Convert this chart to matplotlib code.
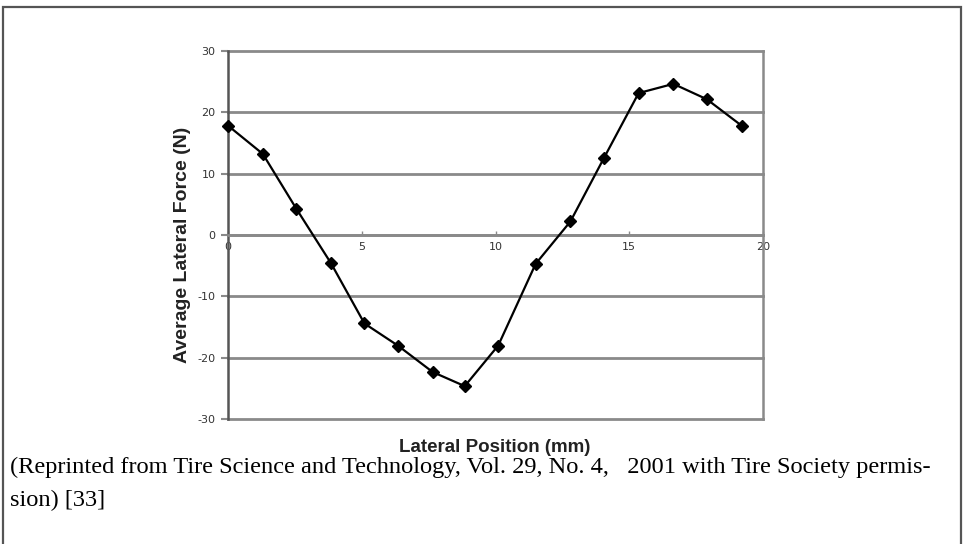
import matplotlib.pyplot as plt
from matplotlib.patches import Rectangle

plt.rcParams['axes.unicode_minus'] = False

# Lateral force sweep across the contact patch
position_mm = [0, 1.3, 2.55, 3.85, 5.1, 6.35, 7.65, 8.85,
               10.1, 11.5, 12.8, 14.05, 15.35, 16.65, 17.9, 19.2]
lateral_force_n = [17.8, 13.2, 4.3, -4.6, -14.4, -18.0, -22.3, -24.6,
                   -18.0, -4.7, 2.2, 12.5, 23.1, 24.6, 22.1, 17.8]

x_ticks = [0, 5, 10, 15, 20]
y_ticks = [-30, -20, -10, 0, 10, 20, 30]

caption_1 = ("(Reprinted from Tire Science and Technology, Vol. 29, No. 4,   "
             "2001 with Tire Society permis-")
caption_2 = "sion) [33]"

fig = plt.figure(figsize=(9.63, 5.44), dpi=100)
ax = fig.add_axes([0.2368, 0.2292, 0.5555, 0.6776])

grid_col = '#8a8a8a'
ax.set_xlim(0, 20)
ax.set_ylim(-30, 30)
ax.set_yticks(y_ticks)
ax.set_xticks(x_ticks)
for y in y_ticks:
    ax.axhline(y, color=grid_col, lw=2.0, zorder=1, clip_on=False)

ax.plot(position_mm, lateral_force_n, color='black', lw=1.6,
        marker='D', markersize=6.5, markerfacecolor='black', zorder=3,
        clip_on=False)

# x axis runs through zero, labels sit just under it
ax.spines['bottom'].set_position(('data', 0))
ax.spines['bottom'].set_color(grid_col)
ax.spines['bottom'].set_linewidth(2.0)
ax.spines['top'].set_visible(False)
ax.spines['left'].set_color('#555555')
ax.spines['left'].set_linewidth(1.8)
ax.spines['right'].set_color(grid_col)
ax.spines['right'].set_linewidth(1.8)

ax.tick_params(axis='x', direction='in', length=3, width=1, color=grid_col,
               labelsize=8, labelcolor='#333333', pad=5)
ax.tick_params(axis='y', direction='out', length=5, width=1.5, color=grid_col,
               labelsize=8, labelcolor='#333333', pad=4)

fig.text(0.189, 1 - 245 / 544, 'Average Lateral Force (N)', rotation=90,
         ha='center', va='center', fontsize=14, fontweight='bold',
         family='Liberation Sans', color='#222222')
fig.text(0.514, 1 - 447 / 544, 'Lateral Position (mm)',
         ha='center', va='center', fontsize=13.5, fontweight='bold',
         family='Liberation Sans', color='#222222')

fig.text(10 / 963, 1 - 467 / 544, caption_1, ha='left', va='center',
         fontsize=17.6, family='Liberation Serif', color='black')
fig.text(10 / 963, 1 - 500 / 544, caption_2, ha='left', va='center',
         fontsize=17.6, family='Liberation Serif', color='black')

# outer frame
fig.add_artist(Rectangle((3 / 963, -0.02), 957.5 / 963, 1.02 - 6.5 / 544,
                         transform=fig.transFigure, fill=False,
                         edgecolor='#555555', lw=1.6))

fig.savefig('out.png', dpi=100)
